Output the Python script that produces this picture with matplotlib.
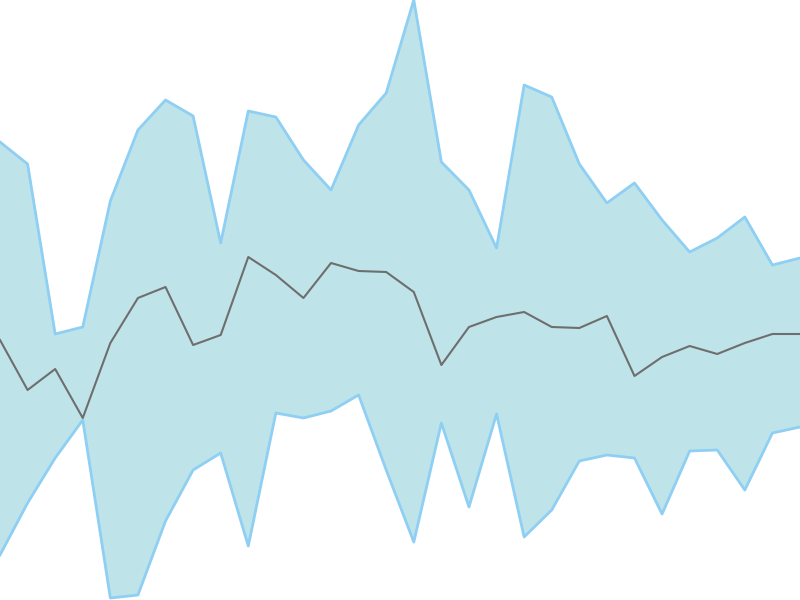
import numpy as np
import matplotlib
matplotlib.use("Agg")
import matplotlib.pyplot as plt

# values (pixel rows inverted: 600 = top)
upper = [458, 436, 266, 273, 399, 470, 500, 484, 357, 489,
         483, 440, 410, 475, 507, 600, 438, 410, 352, 515,
         503, 436, 397, 417, 380, 348, 362, 383, 335, 342]
middle = [260, 210, 231, 182, 257, 302, 313, 255, 265, 343,
          325, 302, 337, 329, 328, 308, 235, 273, 283, 288,
          273, 272, 284, 224, 243, 254, 246, 257, 266, 266]
lower = [45, 97, 142, 180, 2, 5, 79, 130, 147, 54,
         187, 182, 189, 205, 130, 58, 177, 93, 186, 63,
         90, 139, 145, 142, 86, 149, 150, 110, 167, 173]

x = np.arange(len(middle))

fig = plt.figure(figsize=(8, 6), dpi=100)
ax = fig.add_axes([0, 0, 1, 1])
ax.fill_between(x, lower, upper, color="#bee4e9", linewidth=0)
ax.plot(x, upper, color="#8ecff3", linewidth=2)
ax.plot(x, lower, color="#8ecff3", linewidth=2)
ax.plot(x, middle, color="#6e6e6e", linewidth=1.5)
ax.set_xlim(0, len(x) - 1)
ax.set_ylim(0, 600)
ax.axis("off")

fig.savefig("out.png", dpi=100)
